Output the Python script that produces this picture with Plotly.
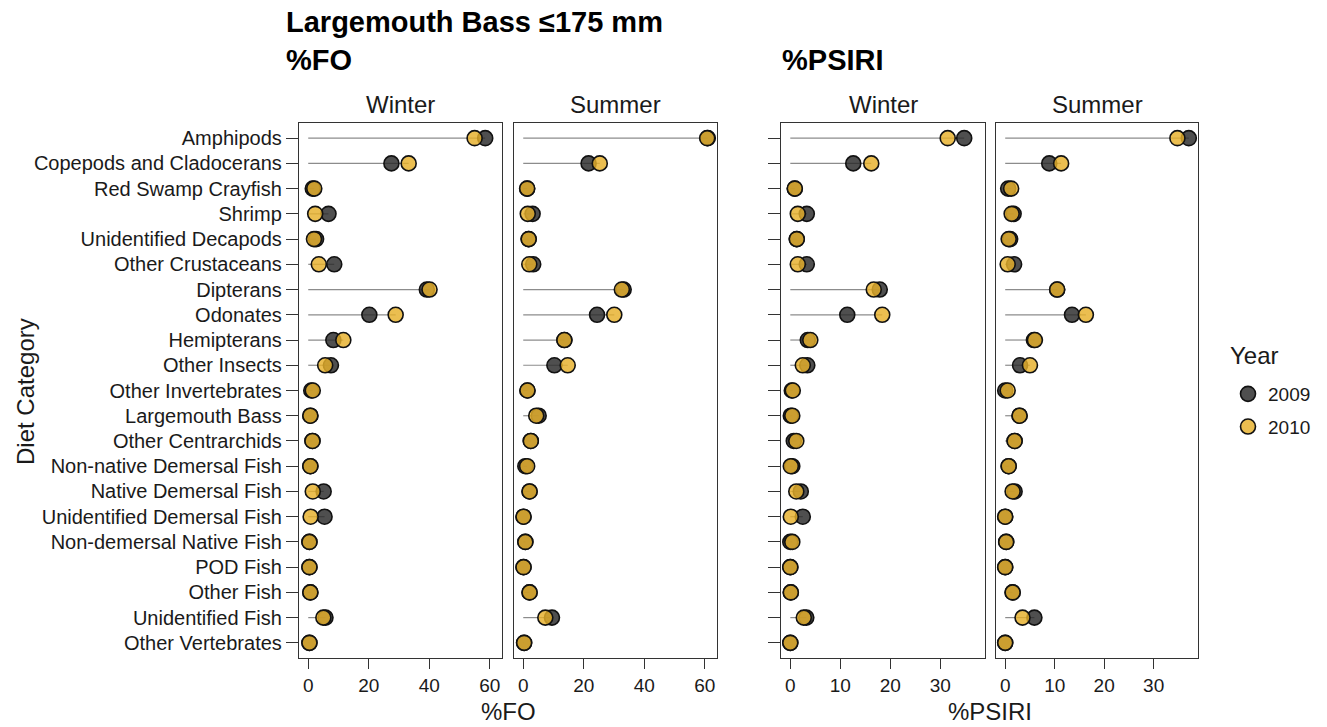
import plotly.graph_objects as go

categories = ["Amphipods", "Copepods and Cladocerans", "Red Swamp Crayfish", "Shrimp",
              "Unidentified Decapods", "Other Crustaceans", "Dipterans", "Odonates",
              "Hemipterans", "Other Insects", "Other Invertebrates", "Largemouth Bass",
              "Other Centrarchids", "Non-native Demersal Fish", "Native Demersal Fish",
              "Unidentified Demersal Fish", "Non-demersal Native Fish", "POD Fish",
              "Other Fish", "Unidentified Fish", "Other Vertebrates"]

fo_winter_2009 = [58.5, 27.5, 1.5, 6.7, 2.6, 8.6, 39.2, 20.2, 8.3, 7.5, 1.0,
                  0.7, 1.4, 0.7, 5.1, 5.4, 0.4, 0.4, 0.7, 5.7, 0.4]
fo_winter_2010 = [55.0, 33.2, 2.0, 2.3, 1.9, 3.5, 40.1, 28.9, 11.6, 5.6, 1.5,
                  0.7, 1.4, 0.7, 1.5, 0.8, 0.4, 0.4, 0.7, 5.0, 0.4]
fo_summer_2009 = [61.0, 21.6, 1.3, 3.1, 1.8, 3.3, 33.2, 24.4, 13.6, 10.3, 1.4,
                  5.1, 2.5, 0.7, 2.1, 0.1, 0.7, 0.1, 2.1, 9.5, 0.3]
fo_summer_2010 = [60.8, 25.3, 1.3, 1.5, 1.8, 2.0, 32.6, 30.1, 13.6, 14.7, 1.4,
                  4.3, 2.5, 1.3, 2.1, 0.1, 0.7, 0.1, 2.1, 7.3, 0.3]
psiri_winter_2009 = [34.8, 12.6, 0.9, 3.3, 1.3, 3.3, 17.9, 11.4, 3.5, 3.4, 0.3,
                     0.1, 0.7, 0.4, 2.1, 2.5, 0.0, 0.0, 0.1, 3.2, 0.0]
psiri_winter_2010 = [31.5, 16.2, 0.9, 1.5, 1.3, 1.5, 16.7, 18.4, 4.0, 2.5, 0.5,
                     0.4, 1.2, 0.1, 1.2, 0.1, 0.4, 0.0, 0.1, 2.7, 0.0]
psiri_summer_2009 = [37.1, 8.9, 0.6, 1.7, 1.0, 1.8, 10.5, 13.5, 5.8, 3.0, 0.0,
                     2.9, 1.9, 0.7, 1.9, 0.0, 0.2, 0.0, 1.5, 5.9, 0.0]
psiri_summer_2010 = [34.8, 11.3, 1.2, 1.3, 0.7, 0.5, 10.5, 16.3, 6.0, 5.0, 0.5,
                     2.9, 1.9, 0.7, 1.5, 0.0, 0.2, 0.0, 1.5, 3.5, 0.0]

years = ["2009", "2010"]
seasons = ["Winter", "Summer"]
panels = [
    (fo_winter_2009, fo_winter_2010),
    (fo_summer_2009, fo_summer_2010),
    (psiri_winter_2009, psiri_winter_2010),
    (psiri_summer_2009, psiri_summer_2010),
]

W, H = 1327, 727
def px(x):
    return x / W
def py(y):
    return 1 - y / H

x_domains = [(299, 502), (514, 717), (781, 985), (996, 1198)]
y_dom = [py(658), py(123)]
x_ranges = [[-3.05, 64.05], [-3.05, 64.05], [-1.86, 38.96], [-1.86, 38.96]]
x_ticks = [[0, 20, 40, 60], [0, 20, 40, 60], [0, 10, 20, 30], [0, 10, 20, 30]]

col_2009 = "rgba(40,40,40,0.82)"
col_2010 = "rgba(230,176,42,0.82)"
FONT = "Arial, Liberation Sans, sans-serif"
TXT = "#1a1a1a"

fig = go.Figure()
for i, (v09, v10) in enumerate(panels):
    xa = "x" if i == 0 else f"x{i+1}"
    ya = "y" if i == 0 else f"y{i+1}"
    lx, ly = [], []
    for c, a, b in zip(categories, v09, v10):
        lx += [0, max(a, b), None]
        ly += [c, c, None]
    fig.add_trace(go.Scatter(x=lx, y=ly, mode="lines", line=dict(color="#8c8c8c", width=1.2),
                             showlegend=False, hoverinfo="skip", xaxis=xa, yaxis=ya))
    for vals, col, yr in [(v09, col_2009, "2009"), (v10, col_2010, "2010")]:
        fig.add_trace(go.Scatter(x=vals, y=categories, mode="markers", name=yr,
                                 marker=dict(size=15, color=col, line=dict(color="#111111", width=1.6)),
                                 showlegend=(i == 0), legendgroup=yr, xaxis=xa, yaxis=ya))

layout = dict(
    width=W, height=H, margin=dict(l=0, r=0, t=0, b=0),
    plot_bgcolor="white", paper_bgcolor="white",
    font=dict(family=FONT, color=TXT),
    legend=dict(font=dict(size=19, color=TXT), x=px(1228), y=py(375),
                xanchor="left", yanchor="top",
                bgcolor="rgba(0,0,0,0)", tracegroupgap=5),
)
for i in range(4):
    xk = "xaxis" if i == 0 else f"xaxis{i+1}"
    yk = "yaxis" if i == 0 else f"yaxis{i+1}"
    d0, d1 = x_domains[i]
    layout[xk] = dict(domain=[px(d0), px(d1)], range=x_ranges[i], tickvals=x_ticks[i],
                      showgrid=False, zeroline=False, showline=True, mirror=True,
                      linecolor="#333333", linewidth=1.3, ticks="outside", ticklen=10,
                      tickwidth=1.3, tickcolor="#333333", tickfont=dict(size=19, color=TXT),
                      anchor="y" if i == 0 else f"y{i+1}")
    layout[yk] = dict(domain=y_dom, type="category", categoryorder="array",
                      categoryarray=categories, range=[20.6, -0.6],
                      showgrid=False, zeroline=False, showline=True, mirror=True,
                      linecolor="#333333", linewidth=1.3,
                      ticks="outside" if i in (0, 2) else "", ticklen=12, tickwidth=1.3,
                      tickcolor="#333333", showticklabels=(i == 0),
                      tickfont=dict(size=20, color=TXT),
                      anchor="x" if i == 0 else f"x{i+1}")
fig.update_layout(**layout)

ann = []
for i in range(4):
    d0, d1 = x_domains[i]
    ann.append(dict(text=seasons[i % 2], x=px((d0 + d1) / 2), y=py(105), xref="paper", yref="paper",
                    showarrow=False, font=dict(size=24, color=TXT), xanchor="center", yanchor="middle"))
ann += [
    dict(text="<b>Largemouth Bass ≤175 mm</b>", x=px(284), y=py(22), font=dict(size=29, color="black")),
    dict(text="<b>%FO</b>", x=px(284), y=py(60), font=dict(size=29, color="black")),
    dict(text="<b>%PSIRI</b>", x=px(780), y=py(60), font=dict(size=29, color="black")),
]
for a in ann[-3:]:
    a.update(xref="paper", yref="paper", showarrow=False, xanchor="left", yanchor="middle")
ann += [
    dict(text="%FO", x=px(508), y=py(711), xref="paper", yref="paper", showarrow=False,
         font=dict(size=24, color=TXT), xanchor="center", yanchor="middle"),
    dict(text="%PSIRI", x=px(990), y=py(711), xref="paper", yref="paper", showarrow=False,
         font=dict(size=24, color=TXT), xanchor="center", yanchor="middle"),
    dict(text="Diet Category", x=px(25), y=py(392), xref="paper", yref="paper", showarrow=False,
         textangle=-90, font=dict(size=24, color=TXT), xanchor="center", yanchor="middle"),
    dict(text="Year", x=px(1228), y=py(355), xref="paper", yref="paper", showarrow=False,
         font=dict(size=24, color=TXT), xanchor="left", yanchor="middle"),
]
fig.update_layout(annotations=ann)

fig.write_html("out.html", config={"displayModeBar": False},
               post_script="document.body.style.margin='0';")
